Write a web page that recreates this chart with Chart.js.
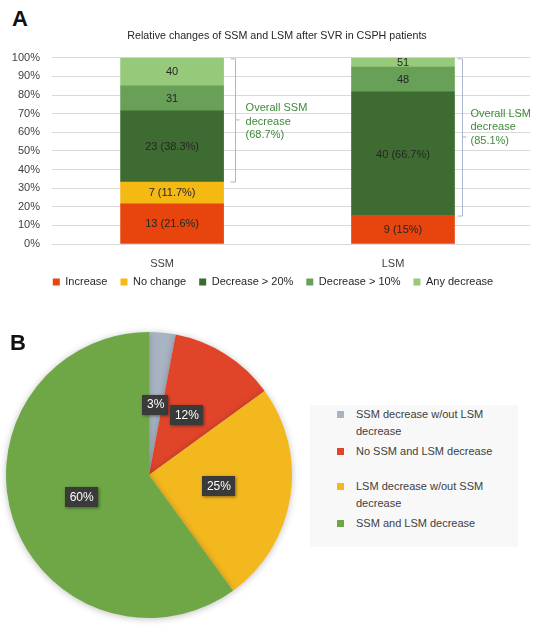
<!DOCTYPE html>
<html>
<head>
<meta charset="utf-8">
<script src="https://cdn.jsdelivr.net/npm/chart.js@4/dist/chart.umd.min.js"></script>
<style>
  html, body { margin: 0; padding: 0; background: #ffffff; }
  body { width: 544px; height: 632px; position: relative; overflow: hidden; font-family: "Liberation Sans", Arial, sans-serif; }
  .panel { position: absolute; font-weight: bold; font-size: 22px; color: #111; font-family: "Liberation Sans", Arial, sans-serif; }
  #wrapA { position: absolute; left: 0; top: 0; width: 544px; height: 305px; }
  #wrapB { position: absolute; left: -1px; top: 325px; width: 300px; height: 300px; }
  #legB { position: absolute; left: 310px; top: 405px; width: 208px; height: 142px; background: #f8f8f8; }
  .li { position: absolute; left: 46px; font-size: 11px; line-height: 17px; color: #404040; width: 160px; }
  .sq { position: absolute; left: 27px; width: 7px; height: 7px; }
</style>
</head>
<body>
<div class="panel" style="left:12px; top:6px;">A</div>
<div id="wrapA"><canvas id="chartA"></canvas></div>
<div id="wrapB"><canvas id="chartB"></canvas></div>
<div class="panel" style="left:10px; top:330px;">B</div>
<div id="legB"></div>
<script>
// ---------- Panel A data ----------
const categories = ["SSM", "LSM"];
const seriesNames = ["Increase", "No change", "Decrease > 20%", "Decrease > 10%", "Any decrease"];
const increasePct = [21.6, 15.0];
const noChangePct = [11.7, 0];
const dec20Pct = [38.3, 66.7];
const dec10Pct = [13.3, 13.3];
const anyDecPct = [15.1, 5.0];
const increaseLbl = ["13 (21.6%)", "9 (15%)"];
const noChangeLbl = ["7 (11.7%)", ""];
const dec20Lbl = ["23 (38.3%)", "40 (66.7%)"];
const dec10Lbl = ["31", "48"];
const anyDecLbl = ["40", "51"];
const bracketTexts = [["Overall SSM", "decrease", "(68.7%)"], ["Overall LSM", "decrease", "(85.1%)"]];
const yTickValues = [0, 10, 20, 30, 40, 50, 60, 70, 80, 90, 100];

// ---------- Panel B data ----------
const pieLabels = ["SSM decrease w/out LSM decrease", "No SSM and LSM decrease", "LSM decrease w/out SSM decrease", "SSM and LSM decrease"];
const pieLegendLines = [["SSM decrease w/out LSM", "decrease"], ["No SSM and LSM decrease"], ["LSM decrease w/out SSM", "decrease"], ["SSM and LSM decrease"]];
const pieValues = [3, 12, 25, 60];

const FONT = "'Liberation Sans', Arial, sans-serif";
const barColors = ["#e8440e", "#f5b914", "#3e6b32", "#68a058", "#96ca7a"];
const pieColors = ["#a9b4c3", "#e0452a", "#f4b81f", "#6fa746"];

const seriesVals = [increasePct, noChangePct, dec20Pct, dec10Pct, anyDecPct];
const seriesLbls = [increaseLbl, noChangeLbl, dec20Lbl, dec10Lbl, anyDecLbl];
const BAR_W = 103;

const barLabelPlugin = {
  id: 'barLabels',
  afterDatasetsDraw(chart) {
    const ctx = chart.ctx;
    ctx.save();
    ctx.font = "11px " + FONT;
    ctx.fillStyle = "#262626";
    ctx.textAlign = "center";
    ctx.textBaseline = "middle";
    chart.data.datasets.forEach((ds, di) => {
      const meta = chart.getDatasetMeta(di);
      meta.data.forEach((el, i) => {
        const t = seriesLbls[di][i];
        if (!t) return;
        ctx.fillText(t, el.x, (el.y + el.base) / 2 + 0.5);
      });
    });
    ctx.restore();
  }
};

const bracketPlugin = {
  id: 'brackets',
  afterDatasetsDraw(chart) {
    const ctx = chart.ctx;
    const xs = chart.scales.x, ys = chart.scales.y;
    const lineOff = [11, 8];
    const textOff = [22, 16];
    const textShift = [2, -9.5];
    ctx.save();
    categories.forEach((c, i) => {
      const start = increasePct[i] + noChangePct[i];
      const yTop = ys.getPixelForValue(100);
      const yBot = ys.getPixelForValue(start);
      const xr = xs.getPixelForValue(i) + BAR_W / 2;
      const lx = Math.round(xr + lineOff[i]) + 0.5;
      const ym = (yTop + yBot) / 2;
      ctx.strokeStyle = "#a9b7cf";
      ctx.lineWidth = 1;
      ctx.beginPath();
      ctx.moveTo(lx - 5, yTop + 1); ctx.lineTo(lx, yTop + 1); ctx.lineTo(lx, yBot); ctx.lineTo(lx - 5, yBot);
      ctx.moveTo(lx, ym); ctx.lineTo(lx + 4, ym);
      ctx.stroke();
      ctx.font = "11px " + FONT;
      ctx.fillStyle = "#3f8a3a";
      ctx.textAlign = "left";
      ctx.textBaseline = "middle";
      const lines = bracketTexts[i];
      lines.forEach((t, k) => {
        ctx.fillText(t, xr + textOff[i], ym + textShift[i] + (k - 1) * 13.5);
      });
    });
    ctx.restore();
  }
};

// nudges the bottom legend so it sits just under the category labels
const legendNudge = {
  id: 'legendNudge',
  afterLayout(chart) {
    const lg = chart.legend;
    if (lg) { lg.top -= 7.5; lg.bottom -= 7.5; lg.left -= 4; lg.right -= 4; }
  }
};

new Chart(document.getElementById('chartA'), {
  type: 'bar',
  data: {
    datasets: seriesNames.map((n, di) => ({
      label: n,
      data: seriesVals[di].map((v, i) => ({ x: i, y: v })),
      backgroundColor: barColors[di],
      borderWidth: 0,
      barThickness: BAR_W
    }))
  },
  options: {
    responsive: true,
    maintainAspectRatio: false,
    animation: false,
    layout: { padding: { left: 10, right: 0, top: 0, bottom: 0 } },
    scales: {
      x: {
        type: 'linear',
        stacked: true,
        offset: false,
        min: -0.52, max: 1.55,
        afterFit: (s) => { s.height = 27; },
        grid: { display: false, drawTicks: false, offset: false },
        border: { display: false },
        ticks: {
          stepSize: 1, includeBounds: false, padding: 13, labelOffset: -10,
          autoSkip: false, maxRotation: 0,
          color: "#404040", font: { family: FONT, size: 11 },
          callback: (v) => Number.isInteger(v) && categories[v] !== undefined ? categories[v] : ''
        }
      },
      y: {
        stacked: true,
        min: 0, max: 100,
        afterFit: (s) => { s.width = 42; },
        afterBuildTicks: (s) => { s.ticks = yTickValues.map(v => ({ value: v })); },
        grid: { color: "#d9d9d9", drawTicks: false },
        border: { display: false },
        ticks: { padding: 12, color: "#404040", font: { family: FONT, size: 11 }, callback: (v) => v + '%' }
      },
      yR: {
        position: 'right',
        display: true,
        afterFit: (s) => { s.width = 14; },
        grid: { display: false, drawTicks: false },
        border: { display: false },
        ticks: { display: false }
      }
    },
    plugins: {
      title: {
        display: true,
        text: "Relative changes of SSM and LSM after SVR in CSPH patients",
        color: "#262626",
        font: { family: FONT, size: 10.7, weight: 'normal' },
        padding: { top: 30, bottom: 15 }
      },
      legend: {
        position: 'bottom',
        labels: { boxWidth: 7, boxHeight: 7, padding: 13, color: "#262626", font: { family: FONT, size: 11 } }
      },
      tooltip: { enabled: false }
    }
  },
  plugins: [barLabelPlugin, bracketPlugin, legendNudge]
});

// ---------- Panel B ----------
const shadowPlugin = {
  id: 'pieShadow',
  beforeDatasetsDraw(chart) {
    const ctx = chart.ctx;
    ctx.save();
    ctx.shadowColor = "rgba(0,0,0,0.25)";
    ctx.shadowBlur = 7;
    ctx.shadowOffsetY = 1;
  },
  afterDatasetsDraw(chart) {
    chart.ctx.restore();
  }
};

const pieLabelPlugin = {
  id: 'pieLabels',
  afterDatasetsDraw(chart) {
    const ctx = chart.ctx;
    const meta = chart.getDatasetMeta(0);
    ctx.save();
    ctx.font = "12px " + FONT;
    ctx.textAlign = "center";
    ctx.textBaseline = "middle";
    meta.data.forEach((arc, i) => {
      const cx = arc.x, cy = arc.y;
      const mid = (arc.startAngle + arc.endAngle) / 2;
      const r = arc.outerRadius * 0.495;
      const x = cx + Math.cos(mid) * r;
      const y = cy + Math.sin(mid) * r;
      const t = chart.data.datasets[0].data[i] + '%';
      const w = ctx.measureText(t).width + 9;
      const h = 20;
      ctx.save();
      ctx.shadowColor = "rgba(0,0,0,0.45)";
      ctx.shadowBlur = 3;
      ctx.shadowOffsetX = 1;
      ctx.shadowOffsetY = 1;
      ctx.fillStyle = "#3a3a3a";
      ctx.fillRect(Math.round(x - w / 2), Math.round(y - h / 2), Math.round(w), h);
      ctx.restore();
      ctx.fillStyle = "#ffffff";
      ctx.fillText(t, x, y + 0.5);
    });
    ctx.restore();
  }
};

new Chart(document.getElementById('chartB'), {
  type: 'pie',
  data: {
    labels: pieLabels,
    datasets: [{ data: pieValues, backgroundColor: pieColors, borderWidth: 0 }]
  },
  options: {
    responsive: true,
    maintainAspectRatio: false,
    animation: false,
    layout: { padding: 7 },
    plugins: { legend: { display: false }, tooltip: { enabled: false } }
  },
  plugins: [shadowPlugin, pieLabelPlugin]
});

// HTML legend for panel B
const legB = document.getElementById('legB');
const itemTops = [0.5, 37.5, 72.5, 109.5];
pieLegendLines.forEach((lines, i) => {
  const sq = document.createElement('div');
  sq.className = 'sq';
  sq.style.top = (itemTops[i] + 5) + 'px';
  sq.style.background = pieColors[i];
  legB.appendChild(sq);
  const li = document.createElement('div');
  li.className = 'li';
  li.style.top = itemTops[i] + 'px';
  li.innerHTML = lines.join('<br>');
  legB.appendChild(li);
});
</script>
</body>
</html>
